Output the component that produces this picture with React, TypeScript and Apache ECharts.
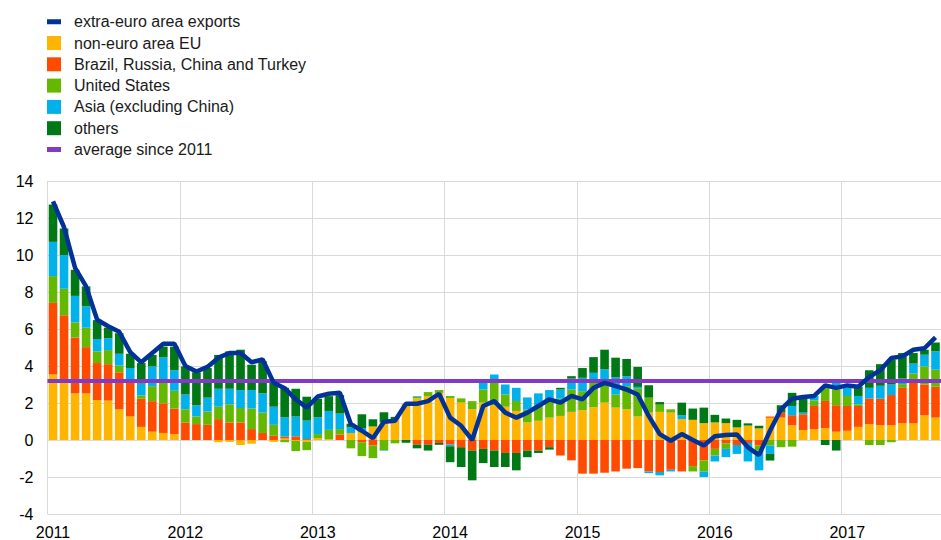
import React, { useEffect, useRef } from "react";
import * as echarts from "echarts";

// Tick labels (years) and monthly categories Jan 2011 – Sep 2017
const years = ["2011", "2012", "2013", "2014", "2015", "2016", "2017"];
const monthsInLastYear = 9;
const categories: string[] = [];
years.forEach((y, yi) => {
  const n = yi === years.length - 1 ? monthsInLastYear : 12;
  for (let m = 1; m <= n; m++) categories.push(`${y}-${String(m).padStart(2, "0")}`);
});

// Contributions (percentage points)
const nonEuroEU = [
  3.54, 3.2, 2.52, 2.52, 2.16, 2.13, 1.66, 1.27, 0.71, 0.45, 0.38, 0.32,
  0, 0, 0, -0.12, -0.1, -0.27, -0.2, 0, -0.1, 0.08, -0.05, -0.1,
  0.1, 0.05, 0, 0.38, 0.45, 0.73, 0.95, 1.13, 1.96, 2.25, 2.38, 2.55,
  2.27, 2.02, 1.66, 2.02, 1.88, 1.8, 1.57, 0.95, 1.04, 1.21, 1.3, 1.52,
  1.61, 1.77, 2.02, 1.75, 1.66, 1.27, 1.48, 1.52, 1.48, 1.13, 1.09, 0.91,
  0.95, 0.91, 0.68, 0.78, 0.63, 1.2, 1.21, 0.8, 0.54, 0.59, 0.64, 0.45,
  0.5, 0.71, 0.86, 0.8, 0.8, 0.91, 0.91, 1.34, 1.21,
];
const brct = [
  3.87, 3.55, 3.02, 2.5, 2.0, 1.97, 2.0, 1.91, 1.52, 1.65, 1.6, 1.38,
  0.95, 0.86, 0.82, 1.13, 0.95, 0.95, 0.59, 0.38, 0.23, 0.1, 0.2, 0.05,
  0, 0, 0.29, 0, -0.12, -0.3, 0, 0, 0, -0.25, -0.25, -0.16,
  -0.25, -0.39, -0.57, -0.48, -0.57, -0.7, -0.7, -0.57, -0.57, -0.39, -0.84, -1.1,
  -1.82, -1.82, -1.77, -1.7, -1.55, -1.52, -1.7, -1.73, -1.61, -1.7, -1.41, -1.1,
  -0.48, -0.18, -0.27, -0.16, -0.3, 0.07, 0.27, 0.54, 0.85, 1.25, 1.47, 1.43,
  1.34, 1.13, 1.39, 1.43, 1.63, 1.91, 2.39, 1.66, 1.67,
];
const unitedStates = [
  1.45, 1.43, 0.82, 1.05, 0.63, 0.76, 0.36, 0, 0.18, 0.81, 1.2, 0.96,
  0.71, 0.41, 0.72, 0.67, 0.98, 0.78, 1.11, 1.1, 0.59, -0.12, -0.55, -0.45,
  0.22, 0.5, 0.3, -0.45, -0.75, -0.68, -0.55, -0.18, 0, 0.08, 0.21, 0.15,
  0.11, 0.23, 0.44, 0.71, 1.25, 0.66, 0.54, 0.69, 0.84, 0.99, 0.93, 1.21,
  1.03, 1.5, 1.1, 0.7, 1.25, 1.5, 0.81, 0.39, 0.18, 0, -0.29, -0.6,
  -0.36, -0.3, 0, 0, -0.27, -0.3, -0.39, -0.36, 0, 0.3, 0.8, 0.85,
  0.54, 0.09, -0.27, -0.27, -0.12, 0.2, 0.29, 0.98, 0.92,
];
const asiaExChina = [
  1.85, 1.82, 1.43, 1.16, 0.67, 0.64, 0.64, 0.71, 0.64, 1.07, 1.3, 1.11,
  0.8, 0.61, 0.75, 0.97, 0.84, 0.97, 1.0, 1.04, 0.98, 1.05, 1.07, 1.0,
  0.91, 1.02, 0.84, 0.3, 0.2, 0, -0.03, 0, 0, 0.04, 0, 0,
  -0.09, 0, 0, 0.36, 0.41, 0.54, 0.71, 0.66, 0.64, 0.5, 0.5, 0.59,
  0.72, 0.36, 0.7, 0.95, 0.54, 0.1, -0.09, -0.18, -0.09, 0.21, 0, -0.3,
  -0.32, -0.45, -0.48, -1.0, -1.07, -0.45, 0, 0.5, 0.09, 0.24, 0, 0.54,
  0.44, 0.45, 0.57, 0.7, 0.57, 0.3, 0.54, 0.63, 0.99,
];
const others = [
  2.02, 1.43, 1.41, 1.07, 1.02, 0.57, 1.11, 0.77, 1.11, 0.62, 0.57, 1.28,
  1.52, 1.78, 1.6, 1.83, 2.02, 2.18, 1.37, 1.73, 1.29, 1.59, 1.5, 1.29,
  1.0, 0.8, 1.0, 0.2, 0.74, 0.39, 0.55, 0.12, -0.15, -0.2, -0.32, -0.1,
  -0.86, -1.07, -1.61, -0.77, -0.89, -0.76, -0.94, -0.36, -0.13, -0.13, 0.09, 0.13,
  0.53, 0.85, 1.06, 1.05, 0.93, 1.08, 0.67, 0.14, 0, 0.68, 0.61, 0.84,
  0.41, 0.25, 0.41, 0.12, 0.14, -0.36, 0.4, 0.71, 0.75, 0, -0.27, -0.57,
  0, 0.5, 0.95, 1.17, 1.34, 1.38, 0.57, 0.27, 0.48,
];
const extraEuroExports = [
  12.9, 11.5, 9.3, 8.3, 6.5, 6.15, 5.85, 4.75, 4.2, 4.7, 5.2, 5.2,
  4.0, 3.7, 3.95, 4.45, 4.7, 4.7, 4.2, 4.35, 3.1, 2.8, 2.2, 1.75,
  2.35, 2.5, 2.55, 0.86, 0.5, 0.1, 0.98, 1.04, 1.96, 1.96, 2.1, 2.5,
  1.21, 0.77, 0.0, 1.84, 2.1, 1.48, 1.21, 1.48, 1.84, 2.2, 2.02, 2.38,
  2.2, 2.82, 3.09, 2.91, 2.73, 2.46, 1.3, 0.32, -0.04, 0.32, 0.0, -0.3,
  0.2, 0.27, 0.3, -0.4, -0.82, 0.5, 1.66, 2.23, 2.32, 2.38, 2.95, 2.82,
  2.95, 2.88, 3.41, 3.77, 4.43, 4.52, 4.88, 4.96, 5.55,
];
const averageSince2011 = 3.2;

const FONT = "Liberation Sans, Arial, sans-serif";
const squareIcon = "rect";
const lineIcon = "path://M0,0h0.05v0.05h-0.05z M0,4.5h14v5h-14z M13.95,13.95h0.05v0.05h-0.05z";

export default function App() {
  const ref = useRef<HTMLDivElement>(null);
  useEffect(() => {
    if (!ref.current) return;
    const chart = echarts.init(ref.current, undefined, { renderer: "svg" });
    const barSeries = (name: string, data: number[], color: string) => ({
      name,
      type: "bar",
      stack: "contrib",
      data,
      barWidth: "78%",
      itemStyle: { color },
      z: 2,
    });
    chart.setOption({
      animation: false,
      textStyle: { fontFamily: FONT },
      legend: {
        orient: "vertical",
        left: 47,
        top: 13.7,
        padding: 0,
        itemWidth: 14,
        itemHeight: 14,
        itemGap: 5.3,
        selectedMode: false,
        textStyle: { fontFamily: FONT, fontSize: 16, color: "#1a1a1a", lineHeight: 14, padding: [0, 0, 0, 8] },
        data: [
          { name: "extra-euro area exports", icon: lineIcon },
          { name: "non-euro area EU", icon: squareIcon },
          { name: "Brazil, Russia, China and Turkey", icon: squareIcon },
          { name: "United States", icon: squareIcon },
          { name: "Asia (excluding China)", icon: squareIcon },
          { name: "others", icon: squareIcon },
          { name: "average since 2011", icon: lineIcon },
        ],
      },
      grid: { left: 47.5, right: 0, top: 181, bottom: 24.5, containLabel: false },
      xAxis: {
        type: "category",
        data: categories,
        boundaryGap: true,
        axisLine: { show: false, onZero: false },
        axisTick: { show: false },
        axisLabel: {
          interval: (i: number) => i % 12 === 0,
          formatter: (v: string) => v.slice(0, 4),
          fontSize: 16,
          color: "#000",
          fontFamily: FONT,
          margin: 10,
        },
        splitLine: {
          show: true,
          interval: (i: number) => i % 12 === 0,
          lineStyle: { color: "#d9d9d9", width: 1 },
        },
      },
      yAxis: {
        type: "value",
        min: -4,
        max: 14,
        interval: 2,
        axisLine: { show: false },
        axisTick: { show: false },
        axisLabel: { fontSize: 16, color: "#000", fontFamily: FONT, margin: 14 },
        splitLine: { show: true, lineStyle: { color: "#d9d9d9", width: 1 } },
      },
      series: [
        barSeries("non-euro area EU", nonEuroEU, "#ffb400"),
        barSeries("Brazil, Russia, China and Turkey", brct, "#ff4b00"),
        barSeries("United States", unitedStates, "#65b800"),
        barSeries("Asia (excluding China)", asiaExChina, "#00b1ea"),
        barSeries("others", others, "#007816"),
        {
          name: "average since 2011",
          type: "line",
          data: [],
          color: "#8139c6",
          z: 3,
          markLine: {
            silent: true,
            symbol: "none",
            label: { show: false },
            lineStyle: { color: "#8139c6", width: 4, type: "solid" },
            data: [{ yAxis: averageSince2011 }],
          },
        },
        {
          name: "extra-euro area exports",
          type: "line",
          data: extraEuroExports,
          color: "#003299",
          showSymbol: false,
          symbol: "none",
          lineStyle: { color: "#003299", width: 4.5 },
          z: 5,
        },
      ],
    });
    return () => chart.dispose();
  }, []);
  return (
    <div
      ref={ref}
      style={{ position: "absolute", left: 0, top: 0, width: 941, height: 540 }}
    />
  );
}
